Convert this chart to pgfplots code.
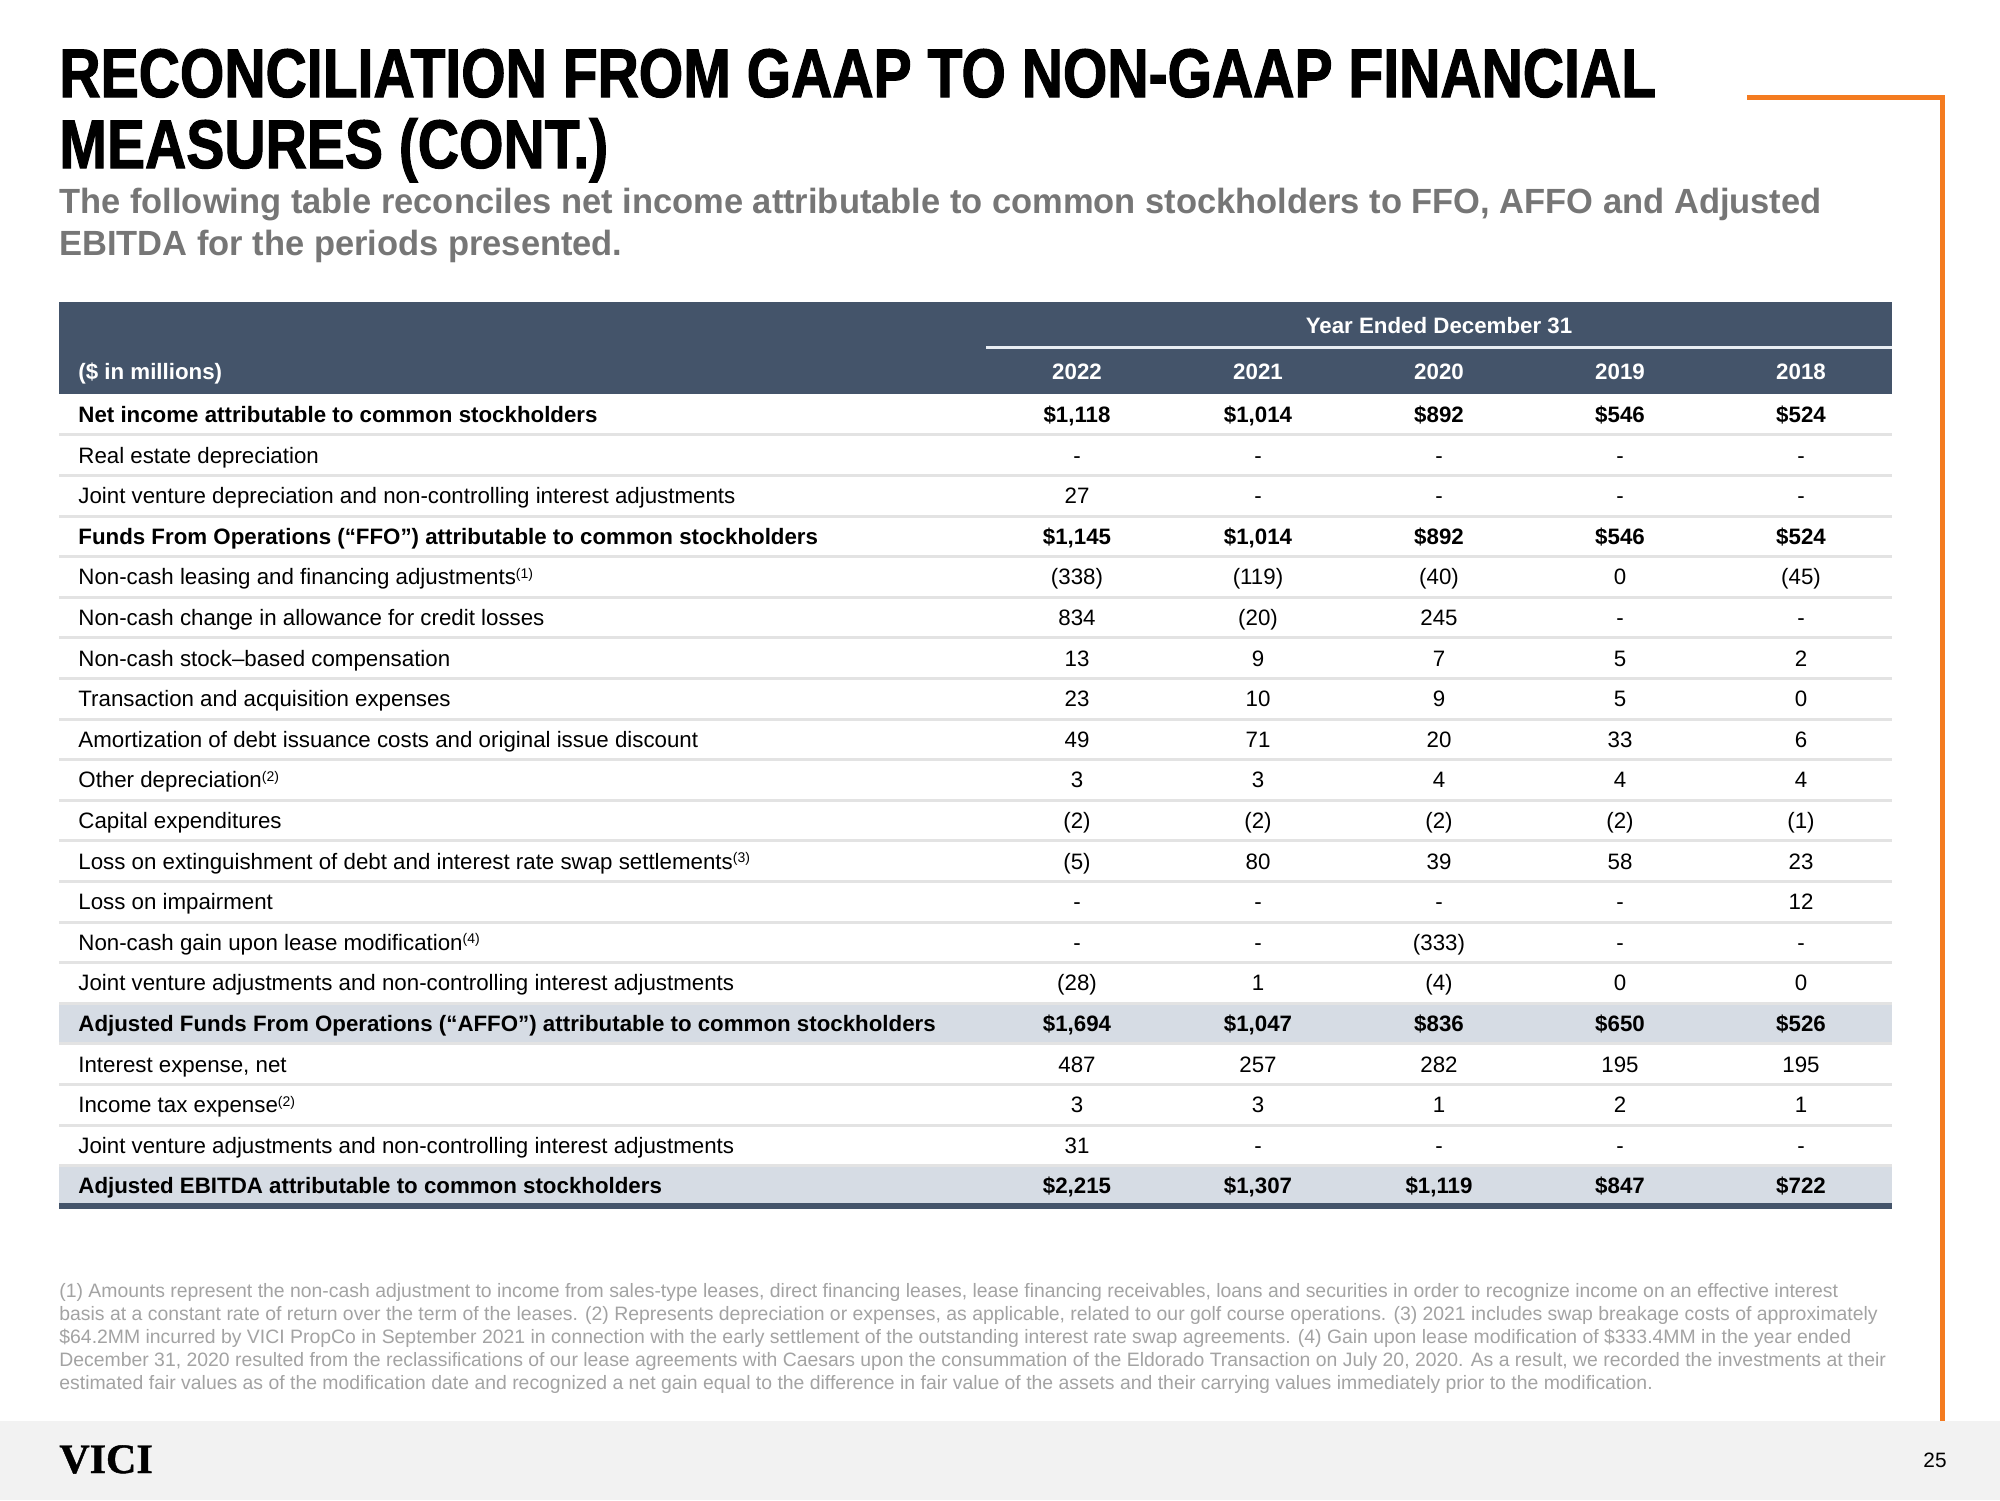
\documentclass[border=0pt]{standalone}
\usepackage{pgfplots}
\pgfplotsset{compat=1.18}
\usepackage{pgfplotstable}
\usepackage{fontspec}
\setmainfont{Liberation Sans}
\newfontfamily\titlefont[FakeStretch=0.830,FakeBold=1.5]{Liberation Sans Bold}
\newfontfamily\subfont[FakeStretch=0.985]{Liberation Sans Bold}
\newfontfamily\logofont[FakeBold=1]{Liberation Serif Bold}
\definecolor{hdr}{HTML}{44546A}
\definecolor{hl}{HTML}{D6DCE4}
\definecolor{sep}{HTML}{E3E3E3}
\definecolor{org}{HTML}{F47B20}
\definecolor{subg}{HTML}{767676}
\definecolor{fng}{HTML}{A3A3A3}
\definecolor{foot}{HTML}{F2F2F2}
\definecolor{hline}{HTML}{E8EDF3}
\newcommand\tabf{\fontsize{11.15}{13}\selectfont}
\newcommand\fnref[1]{\raisebox{3.2pt}{\fontsize{7}{8}\selectfont#1}}

% regular rows: baseline y, 2022 2021 2020 2019 2018
\pgfplotstableread{
y a b c d e
463.0 - - - - -
503.6 27 - - - -
584.8 (338) (119) (40) 0 (45)
625.4 834 (20) 245 - -
666.0 13 9 7 5 2
706.6 23 10 9 5 0
747.2 49 71 20 33 6
787.8 3 3 4 4 4
828.4 (2) (2) (2) (2) (1)
869.0 (5) 80 39 58 23
909.6 - - - - 12
950.2 - - (333) - -
990.8 (28) 1 (4) 0 0
1072.0 487 257 282 195 195
1112.6 3 3 1 2 1
1153.2 31 - - - -
}\regtab
% bold (total) rows, in $ millions
\pgfplotstableread{
y a b c d e
422.4 1,118 1,014 892 546 524
544.2 1,145 1,014 892 546 524
1031.4 1,694 1,047 836 650 526
1193.8 2,215 1,307 1,119 847 722
}\boldtab

\begin{document}
\begin{tikzpicture}
\begin{axis}[width=1000pt,height=750pt,scale only axis,
  xmin=0,xmax=2000,ymin=0,ymax=1500,y dir=reverse,
  hide axis,clip=false,
  every node near coord/.append style={anchor=base,inner sep=0pt,font=\tabf,text=black}]

% background
\fill[white] (axis cs:0,0) rectangle (axis cs:2000,1500);
\fill[foot] (axis cs:0,1421) rectangle (axis cs:2000,1500);
\draw[org,line width=2.5pt] (axis cs:1747,97) -- (axis cs:1942,97) -- (axis cs:1942,1421);

% title
\node[anchor=base west,inner sep=0pt] at (axis cs:59,97) {\titlefont\fontsize{34.4}{36}\selectfont RECONCILIATION FROM GAAP TO NON-GAAP FINANCIAL};
\node[anchor=base west,inner sep=0pt] at (axis cs:59,168) {\titlefont\fontsize{34.4}{36}\selectfont MEASURES (CONT.)};
\node[anchor=base west,inner sep=0pt,text=subg] at (axis cs:59,213) {\subfont\fontsize{17.5}{20}\selectfont The following table reconciles net income attributable to common stockholders to FFO, AFFO and Adjusted};
\node[anchor=base west,inner sep=0pt,text=subg] at (axis cs:59,255) {\subfont\fontsize{17.5}{20}\selectfont EBITDA for the periods presented.};

% table header
\fill[hdr] (axis cs:59,302) rectangle (axis cs:1892,394);
\draw[hline,line width=1.5pt] (axis cs:986,347) -- (axis cs:1892,347);
\node[anchor=base,inner sep=0pt,text=white,font=\tabf\bfseries] at (axis cs:1439,333) {Year Ended December 31};
\node[anchor=base west,inner sep=0pt,text=white,font=\tabf\bfseries] at (axis cs:78,379) {(\$ in millions)};
\foreach \yr/\xx in {2022/1077,2021/1258,2020/1439,2019/1620,2018/1801}{
  \edef\tmp{\noexpand\node[anchor=base,inner sep=0pt,text=white,font=\noexpand\tabf\noexpand\bfseries] at (axis cs:\xx,379) {\yr};}\tmp
}

% highlighted rows
\fill[hl] (axis cs:59,1003.2) rectangle (axis cs:1892,1043.8);
\fill[hl] (axis cs:59,1165.6) rectangle (axis cs:1892,1204);
% separators
\foreach \i in {0,...,18}{
  \pgfmathsetmacro\yy{434.8+40.6*\i}
  \edef\tmp{\noexpand\draw[sep,line width=1.5pt] (axis cs:59,\yy) -- (axis cs:1892,\yy);}\tmp
}
\draw[hdr,line width=3pt] (axis cs:59,1206) -- (axis cs:1892,1206);

% row labels
\node[anchor=base west,inner sep=0pt,font=\tabf\bfseries] at (axis cs:78,422.4) {Net income attributable to common stockholders};
\node[anchor=base west,inner sep=0pt,font=\tabf] at (axis cs:78,463.0) {Real estate depreciation};
\node[anchor=base west,inner sep=0pt,font=\tabf] at (axis cs:78,503.6) {Joint venture depreciation and non-controlling interest adjustments};
\node[anchor=base west,inner sep=0pt,font=\tabf\bfseries] at (axis cs:78,544.2) {Funds From Operations (“FFO”) attributable to common stockholders};
\node[anchor=base west,inner sep=0pt,font=\tabf] at (axis cs:78,584.8) {Non-cash leasing and financing adjustments\fnref{(1)}};
\node[anchor=base west,inner sep=0pt,font=\tabf] at (axis cs:78,625.4) {Non-cash change in allowance for credit losses};
\node[anchor=base west,inner sep=0pt,font=\tabf] at (axis cs:78,666.0) {Non-cash stock–based compensation};
\node[anchor=base west,inner sep=0pt,font=\tabf] at (axis cs:78,706.6) {Transaction and acquisition expenses};
\node[anchor=base west,inner sep=0pt,font=\tabf] at (axis cs:78,747.2) {Amortization of debt issuance costs and original issue discount};
\node[anchor=base west,inner sep=0pt,font=\tabf] at (axis cs:78,787.8) {Other depreciation\fnref{(2)}};
\node[anchor=base west,inner sep=0pt,font=\tabf] at (axis cs:78,828.4) {Capital expenditures};
\node[anchor=base west,inner sep=0pt,font=\tabf] at (axis cs:78,869.0) {Loss on extinguishment of debt and interest rate swap settlements\fnref{(3)}};
\node[anchor=base west,inner sep=0pt,font=\tabf] at (axis cs:78,909.6) {Loss on impairment};
\node[anchor=base west,inner sep=0pt,font=\tabf] at (axis cs:78,950.2) {Non-cash gain upon lease modification\fnref{(4)}};
\node[anchor=base west,inner sep=0pt,font=\tabf] at (axis cs:78,990.8) {Joint venture adjustments and non-controlling interest adjustments};
\node[anchor=base west,inner sep=0pt,font=\tabf\bfseries] at (axis cs:78,1031.4) {Adjusted Funds From Operations (“AFFO”) attributable to common stockholders};
\node[anchor=base west,inner sep=0pt,font=\tabf] at (axis cs:78,1072.0) {Interest expense, net};
\node[anchor=base west,inner sep=0pt,font=\tabf] at (axis cs:78,1112.6) {Income tax expense\fnref{(2)}};
\node[anchor=base west,inner sep=0pt,font=\tabf] at (axis cs:78,1153.2) {Joint venture adjustments and non-controlling interest adjustments};
\node[anchor=base west,inner sep=0pt,font=\tabf\bfseries] at (axis cs:78,1193.8) {Adjusted EBITDA attributable to common stockholders};

% values
\addplot[draw=none,nodes near coords,point meta=explicit symbolic] table[x expr=1077,y=y,meta=a] {\regtab};
\addplot[draw=none,nodes near coords,point meta=explicit symbolic] table[x expr=1258,y=y,meta=b] {\regtab};
\addplot[draw=none,nodes near coords,point meta=explicit symbolic] table[x expr=1439,y=y,meta=c] {\regtab};
\addplot[draw=none,nodes near coords,point meta=explicit symbolic] table[x expr=1620,y=y,meta=d] {\regtab};
\addplot[draw=none,nodes near coords,point meta=explicit symbolic] table[x expr=1801,y=y,meta=e] {\regtab};
\addplot[draw=none,nodes near coords={\bfseries\$\pgfplotspointmeta},point meta=explicit symbolic] table[x expr=1077,y=y,meta=a] {\boldtab};
\addplot[draw=none,nodes near coords={\bfseries\$\pgfplotspointmeta},point meta=explicit symbolic] table[x expr=1258,y=y,meta=b] {\boldtab};
\addplot[draw=none,nodes near coords={\bfseries\$\pgfplotspointmeta},point meta=explicit symbolic] table[x expr=1439,y=y,meta=c] {\boldtab};
\addplot[draw=none,nodes near coords={\bfseries\$\pgfplotspointmeta},point meta=explicit symbolic] table[x expr=1620,y=y,meta=d] {\boldtab};
\addplot[draw=none,nodes near coords={\bfseries\$\pgfplotspointmeta},point meta=explicit symbolic] table[x expr=1801,y=y,meta=e] {\boldtab};

% footnotes
\begin{scope}[every node/.style={anchor=base west,inner sep=0pt,text=fng,font=\fontsize{9.7}{11}\selectfont}]
\node at (axis cs:59,1297) {(1) Amounts represent the non-cash adjustment to income from sales-type leases, direct financing leases, lease financing receivables, loans and securities in order to recognize income on an effective interest};
\node at (axis cs:59,1320) {basis at a constant rate of return over the term of the leases. (2) Represents depreciation or expenses, as applicable, related to our golf course operations. (3) 2021 includes swap breakage costs of approximately};
\node at (axis cs:59,1343) {\$64.2MM incurred by VICI PropCo in September 2021 in connection with the early settlement of the outstanding interest rate swap agreements. (4) Gain upon lease modification of \$333.4MM in the year ended};
\node at (axis cs:59,1366) {December 31, 2020 resulted from the reclassifications of our lease agreements with Caesars upon the consummation of the Eldorado Transaction on July 20, 2020. As a result, we recorded the investments at their};
\node at (axis cs:59,1389) {estimated fair values as of the modification date and recognized a net gain equal to the difference in fair value of the assets and their carrying values immediately prior to the modification.};
\end{scope}

% footer
\node[anchor=base west,inner sep=0pt] at (axis cs:59,1473) {\logofont\fontsize{21}{21}\selectfont VICI};
\node[anchor=base,inner sep=0pt] at (axis cs:1935,1467) {\fontsize{10.4}{12}\selectfont 25};
\end{axis}
\end{tikzpicture}
\end{document}
